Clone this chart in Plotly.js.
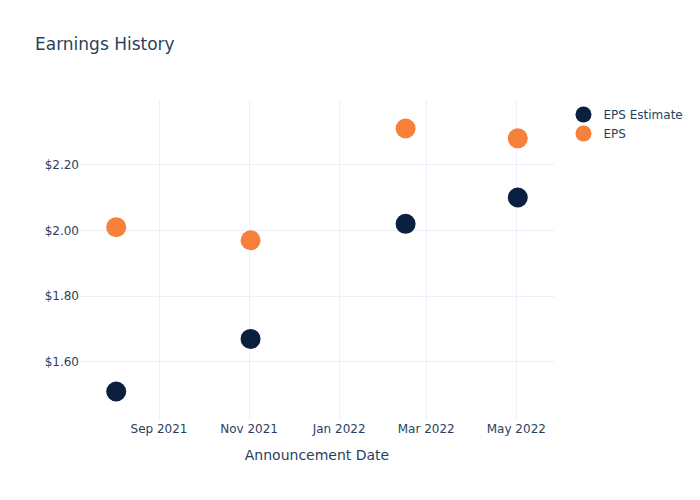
<!DOCTYPE html>
<html>
<head>
<meta charset="utf-8">
<script src="https://cdn.plot.ly/plotly-3.0.1.min.js"></script>
<style>html,body{margin:0;padding:0;}</style>
</head>
<body>
<div id="chart" style="width:700px;height:500px;"></div>
<script>
const dates = ["2021-08-03", "2021-11-02", "2022-02-15", "2022-05-02"];
const epsEstimate = [1.51, 1.67, 2.02, 2.10];
const eps = [2.01, 1.97, 2.31, 2.28];

const traces = [
  {x: dates, y: epsEstimate, type: "scatter", mode: "markers", name: "EPS Estimate",
   marker: {color: "#0B1F3F", size: 20}},
  {x: dates, y: eps, type: "scatter", mode: "markers", name: "EPS",
   marker: {color: "#F7813A", size: 20}}
];

const layout = {
  width: 700, height: 500,
  paper_bgcolor: "white", plot_bgcolor: "white",
  font: {family: "'DejaVu Sans', verdana, arial, sans-serif", color: "#2a3f5f", size: 12},
  title: {text: "Earnings History", x: 0.05, font: {size: 17}},
  xaxis: {title: {text: "Announcement Date", standoff: 15}, gridcolor: "#EBF0F8", zeroline: false,
          showline: false, ticks: ""},
  yaxis: {tickformat: "$.2f", dtick: 0.2, gridcolor: "#EBF0F8", zeroline: false,
          showline: false, ticks: ""},
  legend: {font: {size: 12}},
  showlegend: true
};

Plotly.newPlot("chart", traces, layout, {displayModeBar: false});
</script>
</body>
</html>
